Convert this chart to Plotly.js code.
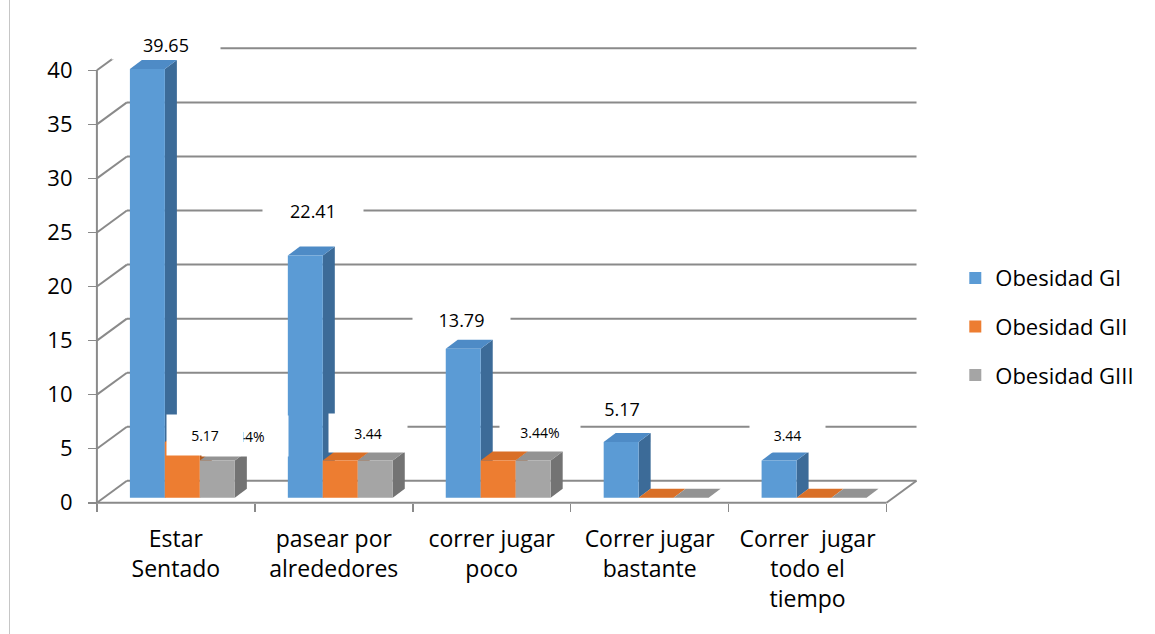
<!DOCTYPE html>
<html><head><meta charset="utf-8">
<script src="https://cdn.plot.ly/plotly-3.0.1.min.js"></script>
<style>
html,body{margin:0;padding:0;background:#fff;}
#chart{width:1155px;height:634px;position:absolute;left:0;top:0;}
#frame{position:absolute;left:9px;top:0;width:0;height:634px;border-left:1px solid #c6c6c6;pointer-events:none;}
</style>
</head><body><div id="chart"></div><div id="frame"></div>
<script>
// ---- data ----
const categories = ["Estar<br>Sentado", "pasear por<br>alrededores", "correr jugar<br>poco", "Correr jugar<br>bastante", "Correr  jugar<br>todo el<br>tiempo"];
const seriesNames = ["Obesidad GI", "Obesidad GII", "Obesidad GIII"];
const obesidadGI = [39.65, 22.41, 13.79, 5.17, 3.44];
const obesidadGII = [5.17, 3.44, 3.44, 0, 0];
const obesidadGIII = [3.44, 3.44, 3.44, 0, 0];
const yTicks = [0, 5, 10, 15, 20, 25, 30, 35, 40];
const labelsGI = ["39.65", "22.41", "13.79", "5.17", "3.44"];
const labelsGII = ["5.17", "", "", "", ""];
const labelsGIII = ["3.44%", "3.44", "3.44%", "", ""];

// ---- styling / geometry (not data) ----
const FONT = "Open Sans, Noto Sans, sans-serif";
const frontColors = ["#5B9BD5", "#ED7D31", "#A5A5A5"];
const sideColors = ["#3C6B98", "#B35B1F", "#737373"];
const topColors = ["#4E8BC6", "#D96F27", "#939393"];
const GRID = "#8a8a8a";
const BAR_W = 0.2215;
const offsets = [-0.291, -0.070, 0.152];
const BASE = 0.46;
const BDX = 0.076, BDY = 0.83;
const WDX = 0.19, WDY = 2.03;
const X0 = -0.5, X1 = 4.5;

const series = [obesidadGI, obesidadGII, obesidadGIII];
const labels = [labelsGI, labelsGII, labelsGIII];

const traces = [];
function line(xs, ys, w, c) {
  traces.push({type: "scatter", mode: "lines", x: xs, y: ys, xaxis: "x", yaxis: "y",
    line: {color: c || GRID, width: w || 2}, hoverinfo: "skip", showlegend: false});
}
yTicks.forEach(v => {
  line([X0 + WDX, X1 + WDX], [v + WDY, v + WDY], 2);
  line([X0, X0 + WDX], [v, v + WDY], 2);
});
line([X0, X0], [0, yTicks[yTicks.length - 1]], 2);
line([X0, X1], [0, 0], 2);
line([X1, X1 + WDX], [0, WDY], 2);

series.forEach((vals, s) => {
  vals.forEach((v, i) => {
    const xl = i + offsets[s], xr = xl + BAR_W;
    const b = BASE, t = BASE + v;
    traces.push({type: "scatter", mode: "lines", fill: "toself", fillcolor: sideColors[s],
      line: {width: 0, color: sideColors[s]},
      x: [xr, xr + BDX, xr + BDX, xr, xr], y: [b, b + BDY, t + BDY, t, b],
      xaxis: "x", yaxis: "y", hoverinfo: "skip", showlegend: false});
    traces.push({type: "scatter", mode: "lines", fill: "toself", fillcolor: topColors[s],
      line: {width: 0, color: topColors[s]},
      x: [xl, xl + BDX, xr + BDX, xr, xl], y: [t, t + BDY, t + BDY, t, t],
      xaxis: "x", yaxis: "y", hoverinfo: "skip", showlegend: false});
  });
});

series.forEach((vals, s) => {
  traces.push({type: "bar", name: seriesNames[s], x: vals.map((_, i) => i), y: vals,
    base: vals.map(() => BASE), width: BAR_W, offset: offsets[s],
    marker: {color: frontColors[s], line: {width: 0}},
    xaxis: "x2", yaxis: "y2", legendgroup: "g" + s, showlegend: true});
});

const labelPlace = [
  [{dx: 19, dy: 24, w: 108, h: 28, f: 18}, {dx: 8, dy: 44, w: 100, h: 28, f: 18}, {dx: -2, dy: 29, w: 97, h: 28, f: 18}, {dx: 1, dy: 33, w: 70, h: 24, f: 18}, {dx: 8, dy: 26, w: 75, h: 34, f: 14}],
  [{dx: 23, dy: 7, w: 76, h: 40, f: 14}, null, null, null, null],
  [{dx: 28, dy: 25, w: 86, h: 40, f: 14}, {dx: -7, dy: 28, w: 78, h: 38, f: 14}, {dx: 7, dy: 29, w: 80, h: 34, f: 14}, null, null]
];
const annotations = [];
[2, 1, 0].forEach(s => {
  series[s].forEach((v, i) => {
    const p = labelPlace[s][i];
    if (!p || !labels[s][i]) return;
    annotations.push({xref: "x", yref: "y", x: i + offsets[s] + BAR_W / 2, y: BASE + v,
      xshift: p.dx, yshift: p.dy, text: labels[s][i], showarrow: false,
      bgcolor: "#ffffff", width: p.w, height: p.h, borderpad: 0,
      font: {family: FONT, size: p.f, color: "#000"}});
  });
});

const yRange = [-0.3, 42.8];
const xRange = [-0.55, 4.75];
const axisPos = 0.3 / (yRange[1] - yRange[0]);
const yAxisPos = 0.05 / (xRange[1] - xRange[0]);

const layout = {
  width: 1155, height: 634,
  margin: {l: 89, r: 229, t: 40, b: 128},
  paper_bgcolor: "#fff", plot_bgcolor: "rgba(0,0,0,0)",
  font: {family: FONT, color: "#000"},
  showlegend: true,
  barmode: "overlay",
  xaxis: {range: xRange, anchor: "free", position: axisPos, tickmode: "array",
    tickvals: categories.map((_, i) => i - 0.5).concat([categories.length - 0.5]),
    showticklabels: false, ticks: "outside", ticklen: 8, tickwidth: 1.5, tickcolor: "#8a8a8a",
    showgrid: false, zeroline: false, showline: false, fixedrange: true},
  yaxis: {range: yRange, anchor: "free", position: yAxisPos, tickmode: "array", tickvals: yTicks,
    ticks: "outside", ticklen: 9, tickwidth: 1.5, tickcolor: "#8a8a8a", ticklabelstandoff: 11,
    tickfont: {family: FONT, size: 22, color: "#000"},
    showgrid: false, zeroline: false, showline: false, fixedrange: true},
  xaxis2: {range: xRange, overlaying: "x", anchor: "free", position: axisPos, tickmode: "array",
    tickvals: categories.map((_, i) => i), ticktext: categories, ticks: "",
    ticklabelstandoff: 20, tickfont: {family: FONT, size: 23, color: "#000"},
    showgrid: false, zeroline: false, showline: false, fixedrange: true},
  yaxis2: {range: yRange, overlaying: "y", anchor: "x2", showticklabels: false, ticks: "",
    showgrid: false, zeroline: false, showline: false, fixedrange: true},
  legend: {x: 1.035, xanchor: "left", y: 0.385, yanchor: "middle", bgcolor: "rgba(0,0,0,0)",
    font: {family: FONT, size: 22, color: "#000"}, tracegroupgap: 17, traceorder: "grouped"},
  annotations: annotations
};

Plotly.newPlot("chart", traces, layout, {displayModeBar: false, staticPlot: true});
</script>
</body></html>
